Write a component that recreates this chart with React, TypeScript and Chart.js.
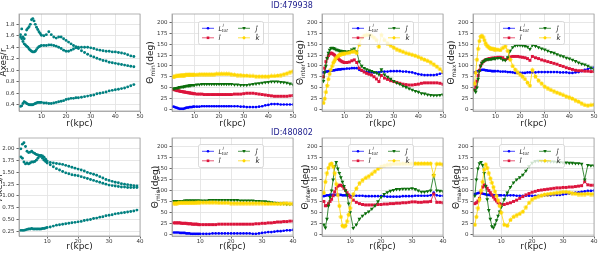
import React, { useEffect, useRef } from 'react';
import { Chart, registerables } from 'chart.js';
Chart.register(...registerables);

const FONT = '"DejaVu Sans", "Liberation Sans", sans-serif';

// ---------------- radii ----------------
const R1 = [1.5, 2, 2.5, 3, 3.5, 4, 4.5, 5, 5.5, 6, 6.5, 7, 7.5, 8, 8.5, 9, 9.5, 10,
  11, 12, 13, 14, 15, 16, 17, 18, 19, 20, 21, 22, 23, 24, 25,
  26.25, 27.5, 28.75, 30, 31.25, 32.5, 33.75, 35, 36.25, 37.5, 38.75, 40, 41.25, 42.5, 43.75, 45, 46.25, 47.5,
  48.75, 50];
const R2 = [1.5, 2, 2.5, 3, 3.5, 4, 4.5, 5, 5.5, 6, 6.5, 7, 7.5, 8, 8.5, 9, 9.5, 10,
  11, 12, 13, 14, 15, 16, 17, 18, 19, 20, 21, 22, 23, 24, 25, 26, 27, 28, 29, 30,
  31, 32, 33, 34, 35, 36, 37, 38, 39, 40];

// ---------------- tick labels ----------------
const X_TICKS_1 = [10, 20, 30, 40, 50];
const X_TICKS_2 = [10, 20, 30, 40];
const AXES_TICKS_1 = [0.4, 0.6, 0.8, 1.0, 1.2, 1.4, 1.6, 1.8];
const AXES_TICKS_2 = [0.25, 0.5, 0.75, 1.0, 1.25, 1.5, 1.75, 2.0];
const THETA_TICKS = [0, 25, 50, 75, 100, 125, 150, 175, 200];

const TITLES = ['ID:479938', 'ID:480802'];

// ---------------- ID:479938 : Axes / r ----------------
const axesA1 = [1.62, 1.72, 1.58, 1.55, 1.62, 1.70, 1.73, 1.76, 1.80, 1.88, 1.90, 1.86, 1.80, 1.75, 1.71, 1.67, 1.64, 1.61,
  1.60, 1.62, 1.67, 1.62, 1.58, 1.56, 1.58, 1.58, 1.55, 1.52, 1.49, 1.46, 1.43, 1.41, 1.38,
  1.34, 1.31, 1.28, 1.25, 1.23, 1.21, 1.19, 1.17, 1.16, 1.14, 1.13, 1.12, 1.11, 1.10, 1.09, 1.08, 1.07, 1.06];
const axesB1 = [1.58, 1.55, 1.50, 1.46, 1.44, 1.42, 1.40, 1.37, 1.35, 1.33, 1.32, 1.32, 1.33, 1.36, 1.39, 1.41, 1.42, 1.43,
  1.43, 1.43, 1.44, 1.44, 1.43, 1.42, 1.40, 1.38, 1.35, 1.33, 1.33, 1.35, 1.37, 1.39, 1.40,
  1.40, 1.40, 1.40, 1.39, 1.38, 1.36, 1.35, 1.34, 1.33, 1.33, 1.32, 1.32, 1.31, 1.30, 1.29, 1.27, 1.25, 1.24];
const axesC1 = [0.37, 0.38, 0.42, 0.45, 0.44, 0.42, 0.41, 0.40, 0.40, 0.40, 0.40, 0.41, 0.42, 0.43, 0.44, 0.44, 0.44, 0.44,
  0.43, 0.43, 0.42, 0.42, 0.43, 0.44, 0.45, 0.46, 0.47, 0.49, 0.50, 0.51, 0.51, 0.52, 0.52,
  0.53, 0.54, 0.55, 0.56, 0.57, 0.59, 0.60, 0.61, 0.62, 0.64, 0.65, 0.66, 0.67, 0.68, 0.69, 0.71, 0.73, 0.75];

// ---------------- ID:479938 : theta_min ----------------
const min1L = [6, 5, 4, 3, 2, 1, 1, 1, 1, 2, 3, 4, 4, 5, 5, 5, 6, 6,
  6, 6, 7, 7, 7, 7, 7, 7, 7, 7, 7, 7, 7, 7, 7,
  7, 7, 6, 6, 5, 5, 5, 5, 6, 7, 9, 10, 12, 12, 12, 11, 11, 11, 11, 11];
const min1I = [46, 45, 44, 43, 43, 42, 41, 41, 40, 40, 39, 39, 38, 38, 37, 37, 36, 36,
  35, 35, 35, 34, 34, 34, 34, 34, 34, 34, 34, 34, 34, 34, 34,
  35, 35, 35, 36, 37, 37, 37, 36, 35, 34, 33, 32, 31, 30, 30, 30, 30, 30, 31, 32];
const min1J = [48, 48, 49, 49, 50, 51, 51, 52, 52, 53, 53, 54, 54, 55, 55, 56, 56, 56,
  57, 57, 58, 58, 58, 58, 58, 58, 58, 58, 58, 58, 58, 58, 58,
  57, 57, 56, 56, 56, 57, 58, 59, 60, 61, 62, 63, 64, 64, 64, 63, 62, 61, 59, 57];
const min1K = [75, 76, 77, 77, 78, 78, 79, 79, 79, 79, 80, 80, 80, 80, 80, 80, 80, 80,
  80, 81, 81, 81, 81, 81, 81, 81, 82, 82, 82, 82, 82, 82, 81,
  80, 79, 79, 78, 78, 77, 77, 76, 76, 76, 76, 76, 77, 77, 78, 79, 81, 83, 86, 88];

// ---------------- ID:479938 : theta_inter ----------------
const inter1L = [85, 86, 87, 87, 88, 88, 89, 89, 90, 90, 91, 91, 92, 92, 92, 93, 93, 93,
  94, 94, 95, 95, 95, 91, 89, 87, 86, 86, 85, 85, 85, 85, 87,
  87, 87, 88, 88, 88, 88, 87, 87, 86, 85, 83, 81, 80, 79, 79, 79, 79, 80, 82, 84];
const inter1I = [75, 95, 110, 118, 124, 128, 130, 129, 127, 125, 122, 120, 117, 114, 112, 110, 109, 108,
  108, 109, 112, 114, 108, 95, 90, 86, 83, 81, 79, 75, 70, 64, 78,
  72, 69, 66, 64, 62, 60, 58, 57, 56, 56, 57, 58, 60, 61, 61, 61, 61, 61, 60, 58];
const inter1J = [65, 85, 100, 118, 130, 137, 141, 142, 141, 140, 138, 137, 136, 135, 135, 134, 134, 134,
  133, 134, 138, 140, 133, 110, 100, 95, 92, 90, 88, 86, 84, 80, 92,
  80, 75, 70, 65, 61, 58, 54, 51, 48, 45, 42, 40, 37, 36, 34, 33, 32, 32, 33, 34];
const inter1K = [15, 25, 40, 55, 70, 82, 92, 100, 108, 113, 118, 121, 124, 126, 127, 128, 128, 129,
  130, 131, 133, 134, 130, 150, 165, 170, 172, 172, 170, 166, 160, 145, 172,
  160, 153, 148, 143, 139, 136, 133, 130, 128, 126, 124, 121, 118, 115, 112, 109, 104, 99, 93, 87];

// ---------------- ID:479938 : theta_max ----------------
const max1L = [85, 86, 87, 88, 89, 90, 91, 91, 91, 90, 90, 89, 89, 89, 88, 88, 88, 88,
  88, 87, 87, 87, 86, 86, 85, 84, 84, 84, 84, 84, 85, 85, 85,
  85, 86, 86, 86, 86, 86, 86, 86, 85, 85, 85, 84, 84, 85, 86, 88, 91, 93, 95, 96];
const max1I = [45, 52, 65, 78, 90, 100, 106, 110, 112, 114, 115, 116, 117, 117, 118, 118, 118, 119,
  120, 120, 119, 115, 117, 121, 122, 122, 122, 121, 120, 119, 117, 113, 122,
  119, 117, 114, 112, 110, 108, 106, 104, 101, 99, 96, 94, 92, 90, 89, 89, 88, 88, 87, 87];
const max1J = [45, 40, 50, 70, 88, 100, 107, 110, 112, 114, 115, 115, 116, 116, 116, 117, 117, 117,
  118, 118, 114, 113, 120, 135, 143, 147, 148, 148, 147, 146, 144, 139, 148,
  146, 143, 140, 138, 135, 132, 130, 127, 124, 122, 119, 117, 114, 111, 108, 105, 103, 100, 96, 92];
const max1K = [60, 85, 115, 140, 158, 168, 170, 167, 160, 153, 148, 145, 142, 141, 140, 140, 139, 139,
  138, 137, 142, 146, 135, 115, 100, 92, 86, 81, 76, 70, 62, 55, 91,
  76, 67, 60, 53, 49, 45, 42, 39, 36, 33, 30, 28, 25, 21, 18, 14, 10, 9, 10, 11];

// ---------------- ID:480802 : Axes / r ----------------
const axesT2 = [2.00, 2.10, 2.13, 2.05, 1.95, 1.92, 1.93, 1.95, 1.92, 1.90, 1.88, 1.87, 1.86, 1.84, 1.80, 1.76, 1.73, 1.70,
  1.66, 1.62, 1.58, 1.55, 1.52, 1.49, 1.47, 1.45, 1.44, 1.43, 1.41, 1.39, 1.37, 1.35, 1.33,
  1.31, 1.29, 1.27, 1.25, 1.23, 1.22, 1.21, 1.20, 1.19, 1.19, 1.18, 1.18, 1.18, 1.18];
const axesS2 = [1.83, 1.80, 1.72, 1.68, 1.70, 1.68, 1.70, 1.72, 1.72, 1.73, 1.76, 1.80, 1.84, 1.86, 1.85, 1.82, 1.78, 1.74,
  1.71, 1.70, 1.69, 1.68, 1.67, 1.65, 1.63, 1.61, 1.59, 1.57, 1.55, 1.53, 1.50, 1.48, 1.46,
  1.44, 1.41, 1.38, 1.35, 1.33, 1.31, 1.29, 1.28, 1.26, 1.25, 1.24, 1.23, 1.22, 1.21];
const axesB2 = [0.27, 0.27, 0.27, 0.28, 0.29, 0.30, 0.30, 0.31, 0.30, 0.30, 0.30, 0.30, 0.30, 0.30, 0.31, 0.31, 0.32, 0.33,
  0.34, 0.36, 0.38, 0.39, 0.40, 0.41, 0.42, 0.43, 0.44, 0.45, 0.46, 0.48, 0.49, 0.50, 0.52,
  0.53, 0.55, 0.56, 0.58, 0.59, 0.60, 0.62, 0.63, 0.64, 0.65, 0.66, 0.67, 0.68, 0.70];

// ---------------- ID:480802 : theta_min ----------------
const min2L = [4, 4, 4, 4, 3, 3, 3, 3, 2, 2, 2, 1, 1, 1, 1, 1, 1, 1,
  1, 1, 1, 2, 2, 2, 2, 2, 2, 2, 2, 2, 2, 2, 2, 2, 1, 1, 2, 3, 4, 5, 5, 6, 7, 7, 8, 9, 9, 10];
const min2I = [26, 26, 26, 26, 26, 25, 25, 25, 25, 24, 24, 24, 23, 23, 23, 23, 22, 22,
  22, 22, 22, 22, 22, 23, 23, 23, 23, 23, 23, 23, 23, 23, 23, 23, 23, 24, 24, 25, 25, 26, 26, 27, 28, 28, 29, 29, 30, 30];
const min2J = [76, 76, 76, 76, 76, 76, 76, 77, 77, 77, 77, 77, 77, 77, 77, 77, 77, 77,
  77, 77, 78, 78, 78, 78, 78, 78, 78, 78, 78, 78, 77, 77, 77, 77, 77, 76, 76, 75, 75, 74, 73, 72, 71, 70, 70, 69, 69, 69];
const min2K = [71, 71, 71, 72, 72, 72, 72, 72, 72, 72, 72, 72, 72, 72, 72, 73, 73, 73,
  73, 73, 73, 73, 73, 72, 72, 72, 72, 71, 71, 71, 71, 71, 71, 71, 71, 71, 71, 71, 70, 70, 70, 70, 70, 70, 71, 71, 70, 70];

// ---------------- ID:480802 : theta_inter ----------------
const inter2L = [87, 88, 89, 89, 90, 90, 90, 90, 90, 90, 90, 90, 89, 89, 89, 89, 88, 88,
  88, 88, 88, 88, 87, 87, 87, 87, 87, 87, 87, 86, 86, 86, 86, 86, 87, 87, 87, 87, 88, 88, 88, 88, 88, 89, 95, 89, 88, 88];
const inter2I = [75, 65, 66, 70, 75, 80, 88, 97, 105, 110, 112, 112, 110, 105, 100, 95, 90, 85,
  78, 73, 70, 68, 67, 67, 67, 67, 68, 68, 69, 69, 70, 70, 71, 71, 72, 72, 73, 74, 74, 73, 73, 74, 74, 75, 92, 73, 73, 72];
const inter2J = [22, 15, 35, 65, 85, 100, 125, 155, 165, 150, 140, 130, 120, 110, 100, 90, 70, 50,
  14, 22, 35, 42, 48, 52, 58, 65, 75, 85, 92, 96, 99, 101, 103, 103, 104, 104, 104, 105, 103, 100, 97, 97, 98, 100, 135, 100, 99, 98];
const inter2K = [95, 120, 140, 152, 160, 162, 155, 140, 115, 90, 65, 40, 20, 18, 20, 30, 45, 60,
  92, 105, 117, 124, 129, 133, 138, 144, 150, 155, 157, 159, 160, 161, 161, 161, 162, 162, 162, 162, 162, 162, 162, 162, 162, 162, 135, 161, 161, 160];

// ---------------- ID:480802 : theta_max ----------------
const max2L = [92, 93, 94, 95, 94, 93, 92, 91, 90, 90, 89, 89, 89, 89, 89, 89, 89, 89,
  89, 89, 89, 89, 88, 88, 88, 88, 88, 88, 88, 88, 88, 89, 89, 89, 90, 90, 90, 91, 92, 93, 94, 95, 96, 97, 98, 99, 99, 100];
const max2I = [70, 72, 76, 82, 95, 108, 113, 110, 105, 100, 95, 90, 85, 80, 76, 72, 70, 68,
  68, 70, 72, 75, 78, 82, 86, 90, 93, 96, 98, 100, 101, 102, 103, 104, 105, 106, 106, 107, 107, 108, 108, 109, 110, 111, 120, 113, 112, 112];
const max2J = [88, 125, 150, 162, 165, 158, 140, 110, 80, 55, 35, 18, 15, 22, 32, 42, 52, 62,
  80, 95, 108, 118, 125, 130, 136, 145, 155, 163, 167, 168, 168, 167, 167, 166, 166, 165, 165, 164, 164, 163, 163, 162, 162, 161, 125, 158, 157, 157];
const max2K = [22, 40, 60, 80, 100, 120, 148, 160, 152, 140, 128, 118, 108, 98, 88, 78, 65, 50,
  22, 20, 33, 40, 44, 47, 52, 62, 72, 80, 84, 87, 89, 91, 92, 93, 94, 95, 96, 97, 97, 96, 94, 93, 92, 92, 92, 93, 92, 92];

// ---------------- styling / layout ----------------
const C_L = '#0000ff';
const C_I = '#dc143c';
const C_J = '#0b6e0b';
const C_K = '#ffd700';
const C_AX = '#008080';

const PLOT_LEFT = [19, 172, 322, 473];
const PLOT_TOP = [14, 138];
const PLOT_W = 121;
const PLOT_H = [97, 98];
const PAD_L = 30, PAD_R = 6, PAD_T = 6, PAD_B = 18;

function pentagon(ctx: CanvasRenderingContext2D, cx: number, cy: number, r: number) {
  ctx.beginPath();
  for (let i = 0; i < 5; i++) {
    const a = -Math.PI / 2 + (i * 2 * Math.PI) / 5;
    const px = cx + r * Math.cos(a), py = cy + r * Math.sin(a);
    if (i === 0) ctx.moveTo(px, py); else ctx.lineTo(px, py);
  }
  ctx.closePath();
}

function pentagonImage(color: string) {
  const c = document.createElement('canvas');
  c.width = 5; c.height = 5;
  const g = c.getContext('2d')!;
  g.fillStyle = color;
  pentagon(g, 2.5, 2.7, 2.2);
  g.fill();
  return c;
}

function drawMarker(ctx: CanvasRenderingContext2D, shape: string, x: number, y: number, color: string) {
  ctx.fillStyle = color;
  if (shape === 'circle') { ctx.beginPath(); ctx.arc(x, y, 1.3, 0, Math.PI * 2); ctx.fill(); }
  else if (shape === 'square') { ctx.fillRect(x - 1.3, y - 1.3, 2.6, 2.6); }
  else if (shape === 'tri') { ctx.beginPath(); ctx.moveTo(x - 1.8, y - 1.2); ctx.lineTo(x + 1.8, y - 1.2); ctx.lineTo(x, y + 1.8); ctx.closePath(); ctx.fill(); }
  else { pentagon(ctx, x, y, 1.7); ctx.fill(); }
}

function drawYTitle(ctx: CanvasRenderingContext2D, segs: any[], x: number, y: number) {
  ctx.save();
  ctx.translate(x, y);
  ctx.rotate(-Math.PI / 2);
  ctx.textAlign = 'left';
  ctx.textBaseline = 'alphabetic';
  ctx.fillStyle = '#222';
  let total = 0;
  const widths = segs.map((s) => {
    ctx.font = `${s.size}px ${FONT}`;
    const w = ctx.measureText(s.text).width;
    total += w;
    return w;
  });
  let cx = -total / 2;
  segs.forEach((s, i) => {
    ctx.font = `${s.size}px ${FONT}`;
    ctx.fillText(s.text, cx, 3 + (s.dy || 0));
    cx += widths[i];
  });
  ctx.restore();
}

function drawLegend(ctx: CanvasRenderingContext2D, a: any, dyTop: number) {
  const bx = Math.round(a.left) + 26, by = Math.round(a.top) + dyTop, bw = 65, bh = 23;
  ctx.save();
  ctx.beginPath();
  if ((ctx as any).roundRect) (ctx as any).roundRect(bx + 0.5, by + 0.5, bw, bh, 2);
  else ctx.rect(bx + 0.5, by + 0.5, bw, bh);
  ctx.fillStyle = 'rgba(255,255,255,0.8)';
  ctx.fill();
  ctx.strokeStyle = 'rgba(204,204,204,0.9)';
  ctx.lineWidth = 0.8;
  ctx.stroke();
  const rows = [by + 7.3, by + 16.8];
  const cols = [bx + 4, bx + 40];
  const items = [
    { c: 0, r: 0, color: C_L, shape: 'circle', label: 'L' },
    { c: 0, r: 1, color: C_I, shape: 'square', label: 'î' },
    { c: 1, r: 0, color: C_J, shape: 'tri', label: 'ĵ' },
    { c: 1, r: 1, color: C_K, shape: 'pent', label: 'k\u0302' },
  ];
  ctx.textAlign = 'left';
  ctx.textBaseline = 'alphabetic';
  for (const it of items) {
    const x0 = cols[it.c], y = rows[it.r];
    ctx.strokeStyle = it.color;
    ctx.lineWidth = 0.7;
    ctx.beginPath(); ctx.moveTo(x0, y); ctx.lineTo(x0 + 12, y); ctx.stroke();
    drawMarker(ctx, it.shape, x0 + 6, y, it.color);
    ctx.fillStyle = '#222';
    const tx = x0 + (it.c === 0 ? 16.5 : 17.5);
    if (it.label === 'L') {
      ctx.font = `italic 6.5px ${FONT}`;
      ctx.fillText('L', tx, y + 2.4);
      const w = ctx.measureText('L').width;
      ctx.font = `italic 4.3px ${FONT}`;
      ctx.fillText('l', tx + w + 0.3, y - 0.9);
      ctx.fillText('tot', tx + w - 0.3, y + 4.0);
    } else {
      ctx.font = `italic 7px ${FONT}`;
      ctx.fillText(it.label, tx, y + 2.6);
    }
  }
  ctx.restore();
}

const framePlugin = {
  id: 'frame',
  afterDraw(chart: any, _args: any, opts: any) {
    const { ctx, chartArea: a } = chart;
    ctx.save();
    ctx.strokeStyle = '#a0a0a0';
    ctx.lineWidth = 0.8;
    ctx.strokeRect(a.left, a.top, a.right - a.left, a.bottom - a.top);
    ctx.fillStyle = '#222';
    ctx.font = `9px ${FONT}`;
    ctx.textAlign = 'center';
    ctx.textBaseline = 'middle';
    ctx.fillText('r(kpc)', (a.left + a.right) / 2, a.bottom + opts.xDy);
    drawYTitle(ctx, opts.ySegs, a.left + opts.yDx, (a.top + a.bottom) / 2);
    if (opts.legend) drawLegend(ctx, a, opts.legendTop);
    ctx.restore();
  },
};

const pts = (r: number[], v: number[]) => v.map((y, i) => ({ x: r[i], y }));

type PanelCfg = {
  row: number; col: number; kind: 'axes' | 'theta'; sub?: string; series: number[][];
};

const PANELS: PanelCfg[] = [
  { row: 0, col: 0, kind: 'axes', series: [axesA1, axesB1, axesC1] },
  { row: 0, col: 1, kind: 'theta', sub: 'min', series: [min1L, min1I, min1J, min1K] },
  { row: 0, col: 2, kind: 'theta', sub: 'inter', series: [inter1L, inter1I, inter1J, inter1K] },
  { row: 0, col: 3, kind: 'theta', sub: 'max', series: [max1L, max1I, max1J, max1K] },
  { row: 1, col: 0, kind: 'axes', series: [axesT2, axesS2, axesB2] },
  { row: 1, col: 1, kind: 'theta', sub: 'min', series: [min2L, min2I, min2J, min2K] },
  { row: 1, col: 2, kind: 'theta', sub: 'inter', series: [inter2L, inter2I, inter2J, inter2K] },
  { row: 1, col: 3, kind: 'theta', sub: 'max', series: [max2L, max2I, max2J, max2K] },
];

function Panel({ cfg }: { cfg: PanelCfg }) {
  const ref = useRef<HTMLCanvasElement>(null);
  const W = PAD_L + PLOT_W + PAD_R;
  const H = PAD_T + PLOT_H[cfg.row] + PAD_B;
  const left = PLOT_LEFT[cfg.col] - PAD_L;
  const top = PLOT_TOP[cfg.row] - PAD_T;

  useEffect(() => {
    const r = cfg.row === 0 ? R1 : R2;
    const xTicks = cfg.row === 0 ? X_TICKS_1 : X_TICKS_2;
    const xMax = cfg.row === 0 ? 50 : 40;
    let datasets: any[];
    let yTicks: number[];
    let yMin: number, yMax: number;
    let fmt: (v: number) => string;
    let ySegs: any[];
    let yDx: number;
    if (cfg.kind === 'axes') {
      datasets = cfg.series.map((s) => ({
        data: pts(r, s),
        showLine: false,
        pointRadius: 1.45,
        pointStyle: 'circle',
        pointBackgroundColor: C_AX,
        pointBorderWidth: 0,
        borderColor: C_AX,
        backgroundColor: C_AX,
      }));
      yTicks = cfg.row === 0 ? AXES_TICKS_1 : AXES_TICKS_2;
      yMin = cfg.row === 0 ? 0.29 : 0.15;
      yMax = cfg.row === 0 ? 1.98 : 2.23;
      fmt = (v) => (cfg.row === 0 ? v.toFixed(1) : v.toFixed(2));
      ySegs = [{ text: 'Axes/r', size: 9 }];
      yDx = cfg.row === 0 ? -16 : -20;
    } else {
      const [sL, sI, sJ, sK] = cfg.series;
      const base = { borderWidth: 0.8, tension: 0, fill: false, pointBorderWidth: 0 };
      const dL = { ...base, data: pts(r, sL), borderColor: C_L, backgroundColor: C_L, pointBackgroundColor: C_L, pointStyle: 'circle', pointRadius: 1.35 };
      const dI = { ...base, data: pts(r, sI), borderColor: C_I, backgroundColor: C_I, pointBackgroundColor: C_I, pointStyle: 'rect', pointRadius: 2.1 };
      const dJ = { ...base, data: pts(r, sJ), borderColor: C_J, backgroundColor: C_J, pointBackgroundColor: C_J, pointStyle: 'triangle', pointRotation: 180, pointRadius: 2.2 };
      const dK = { ...base, data: pts(r, sK), borderColor: C_K, backgroundColor: C_K, pointBackgroundColor: C_K, pointStyle: pentagonImage(C_K), pointRadius: 2 };
      datasets = [dK, dJ, dI, dL];
      yTicks = THETA_TICKS;
      yMin = -4;
      yMax = 220;
      fmt = (v) => String(Math.round(v));
      ySegs = [
        { text: 'Θ', size: 9 },
        { text: cfg.sub, size: 6, dy: 2 },
        { text: '(deg)', size: 9 },
      ];
      yDx = cfg.row === 0 ? -22 : -17;
    }

    const grid = { color: '#e4e4e4', lineWidth: 0.9, tickLength: 2.5, tickColor: '#555', drawTicks: true };
    const tickFont = { size: 5.5, family: FONT };
    const chart = new Chart(ref.current!, {
      type: 'line',
      data: { datasets },
      plugins: [framePlugin as any],
      options: {
        responsive: false,
        animation: false,
        devicePixelRatio: 1,
        events: [],
        layout: { padding: { left: 0, top: PAD_T, right: PAD_R, bottom: 0 } },
        plugins: {
          legend: { display: false },
          tooltip: { enabled: false },
          frame: {
            ySegs, yDx, legend: cfg.kind === 'theta',
            legendTop: cfg.row === 0 ? 7 : 6,
            xDy: cfg.row === 0 ? 13 : 11,
          },
        } as any,
        scales: {
          x: {
            type: 'linear',
            min: 0.9,
            max: xMax,
            afterBuildTicks: (s: any) => { s.ticks = xTicks.map((v) => ({ value: v })); },
            afterFit: (s: any) => { s.height = PAD_B; },
            ticks: { font: tickFont, color: '#333', padding: 0, maxRotation: 0, autoSkip: false, callback: (v: any) => String(v) },
            grid,
            border: { color: '#a0a0a0', width: 0.8 },
          },
          y: {
            type: 'linear',
            min: yMin,
            max: yMax,
            afterBuildTicks: (s: any) => { s.ticks = yTicks.map((v) => ({ value: v })); },
            afterFit: (s: any) => { s.width = PAD_L; },
            ticks: { font: tickFont, color: '#333', padding: 2, autoSkip: false, callback: (v: any) => fmt(Number(v)) },
            grid,
            border: { color: '#a0a0a0', width: 0.8 },
          },
        },
      } as any,
    });
    return () => chart.destroy();
  }, []);

  return (
    <canvas
      ref={ref}
      width={W}
      height={H}
      style={{ position: 'absolute', left, top, width: W, height: H, display: 'block' }}
    />
  );
}

export default function App() {
  return (
    <div style={{ position: 'absolute', left: 0, top: 0, width: 598, height: 254, overflow: 'hidden', background: '#fff' }}>
      {PANELS.map((p, i) => <Panel key={i} cfg={p} />)}
      {TITLES.map((t, i) => (
        <div
          key={t}
          style={{
            position: 'absolute', left: 0, width: 584, top: i === 0 ? 1 : 127.5, textAlign: 'center',
            fontFamily: FONT, fontSize: 8, lineHeight: '9px', color: '#1a1a8c',
          }}
        >
          {t}
        </div>
      ))}
    </div>
  );
}
